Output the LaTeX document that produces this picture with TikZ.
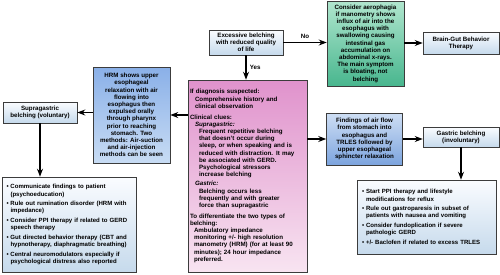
\documentclass[tikz,border=0pt]{standalone}
\usepackage{fontspec}
\setmainfont{Liberation Sans}
\usepackage{tikz}
\usetikzlibrary{arrows.meta,calc}
\definecolor{boxline}{RGB}{60,60,60}
\definecolor{paletop}{RGB}{250,252,255}
\definecolor{palebot}{RGB}{198,218,236}
\definecolor{hrmtop}{RGB}{138,176,232}
\definecolor{hrmbot}{RGB}{200,220,244}
\definecolor{bluetop}{RGB}{206,222,244}
\definecolor{bluebot}{RGB}{124,164,222}
\definecolor{greentop}{RGB}{176,230,206}
\definecolor{greenbot}{RGB}{72,182,142}
\definecolor{pinktop}{RGB}{224,146,204}
\definecolor{pinkbot}{RGB}{248,228,241}
\newcommand{\bl}{\makebox[4pt][l]{\textbullet}}
\newcommand{\ind}[1]{\hspace*{#1pt}}

\begin{document}
\begin{tikzpicture}[x=1pt, y=-1pt, >=Stealth,
  font=\fontsize{6.2}{7.2}\selectfont\bfseries,
  box/.style={draw=boxline, line width=0.6pt, inner sep=1pt, align=center},
  pale/.style={box, top color=paletop, bottom color=palebot},
  listbox/.style={pale, font=\fontsize{6.05}{7.2}\selectfont\bfseries, align=left},
  link/.style={->, line width=1.1pt}]
\useasboundingbox (0,0) rectangle (500,274);
\node[pale, minimum width=74pt, minimum height=25pt] (excess) at (246,42.5) {Excessive belching\\with reduced quality\\of life};
\node[box, top color=greentop, bottom color=greenbot, minimum width=77pt, minimum height=85pt] (aero) at (365.5,43.5) {Consider aerophagia\\if manometry shows\\influx of air into the\\esophagus with\\swallowing causing\\intestinal gas\\accumulation on\\abdominal x-rays.\\The main symptom\\is bloating, not\\belching};
\node[pale, minimum width=76pt, minimum height=22pt] (braingut) at (461,43) {Brain-Gut Behavior\\Therapy};
\node[box, top color=pinktop, bottom color=pinkbot, minimum width=119pt, minimum height=192pt, text width=115pt, inner xsep=2pt, align=left] (clues) at (247.5,176) {If diagnosis suspected:\\
\ind{5}Comprehensive history and\\
\ind{5}clinical observation\\[3.5pt]
Clinical clues:\\
\ind{5}\textit{Supragastric:}\\
\ind{9}Frequent repetitive belching\\
\ind{9}that doesn't occur during\\
\ind{9}sleep, or when speaking and is\\
\ind{9}reduced with distraction. It may\\
\ind{9}be associated with GERD.\\
\ind{9}Psychological stressors\\
\ind{9}increase belching\\[2pt]
\ind{5}\textit{Gastric:}\\
\ind{9}Belching occurs less\\
\ind{9}frequently and with greater\\
\ind{9}force than supragastric\\[3.5pt]
To differentiate the two types of\\
belching:\\
\ind{4}Ambulatory impedance\\
\ind{4}monitoring +/- high resolution\\
\ind{4}manometry (HRM) (for at least 90\\
\ind{4}minutes); 24 hour impedance\\
\ind{4}preferred.};
\node[box, top color=hrmtop, bottom color=hrmbot, minimum width=77pt, minimum height=96pt] (hrm) at (131.5,115) {HRM shows upper\\esophageal\\relaxation with air\\flowing into\\esophagus then\\expulsed orally\\through pharynx\\prior to reaching\\stomach. Two\\methods: Air-suction\\and air-injection\\methods can be seen};
\node[pale, minimum width=74pt, minimum height=21pt] (supra) at (40,112.5) {Supragastric\\belching (voluntary)};
\node[listbox, minimum width=134pt, minimum height=95pt, text width=126pt, inner xsep=4pt] (leftlist) at (69.5,224.5) {\bl Communicate findings to patient\\\ind{4}(psychoeducation)\\[2.4pt]
\bl Rule out rumination disorder (HRM with\\\ind{4}impedance)\\[2.4pt]
\bl Consider PPI therapy if related to GERD\\\ind{4}speech therapy\\[2.4pt]
\bl Gut directed behavior therapy (CBT and\\\ind{4}hypnotherapy, diaphragmatic breathing)\\[2.4pt]
\bl Central neuromodulators especially if\\\ind{4}psychological distress also reported};
\node[box, top color=bluetop, bottom color=bluebot, minimum width=76pt, minimum height=52pt] (findings) at (364.5,139) {Findings of air flow\\from stomach into\\esophagus and\\TRLES followed by\\upper esophageal\\sphincter relaxation};
\node[pale, minimum width=76pt, minimum height=20pt] (gastric) at (461,137) {Gastric belching\\(involuntary)};
\node[listbox, minimum width=139pt, minimum height=74pt, text width=129pt, inner xsep=5pt] (rightlist) at (426.5,217) {\bl Start PPI therapy and lifestyle\\\ind{4}modifications for reflux\\[2.4pt]
\bl Rule out gastroparesis in subset of\\\ind{4}patients with nausea and vomiting\\[2.4pt]
\bl Consider fundoplication if severe\\\ind{4}pathologic GERD\\[2.4pt]
\bl +/- Baclofen if related to excess TRLES};
\draw[link] (excess.east) -- node[above] {No} (excess.east -| aero.west);
\draw[link] (excess.south) -- node[right] {Yes} (excess.south |- clues.north);
\draw[link] (aero.east |- braingut) -- (braingut.west);
\draw[link] (hrm.east -| clues.west) -- (hrm.east);
\draw[link] (hrm.west |- supra) -- (supra.east);
\draw[link] (supra.south) -- (supra.south |- leftlist.north);
\draw[link] (findings.west -| clues.east) -- (findings.west);
\draw[link] (findings.east -| findings.east) -- (findings.east -| gastric.west);
\draw[link] (gastric.south) -- (gastric.south |- rightlist.north);
\end{tikzpicture}
\end{document}
